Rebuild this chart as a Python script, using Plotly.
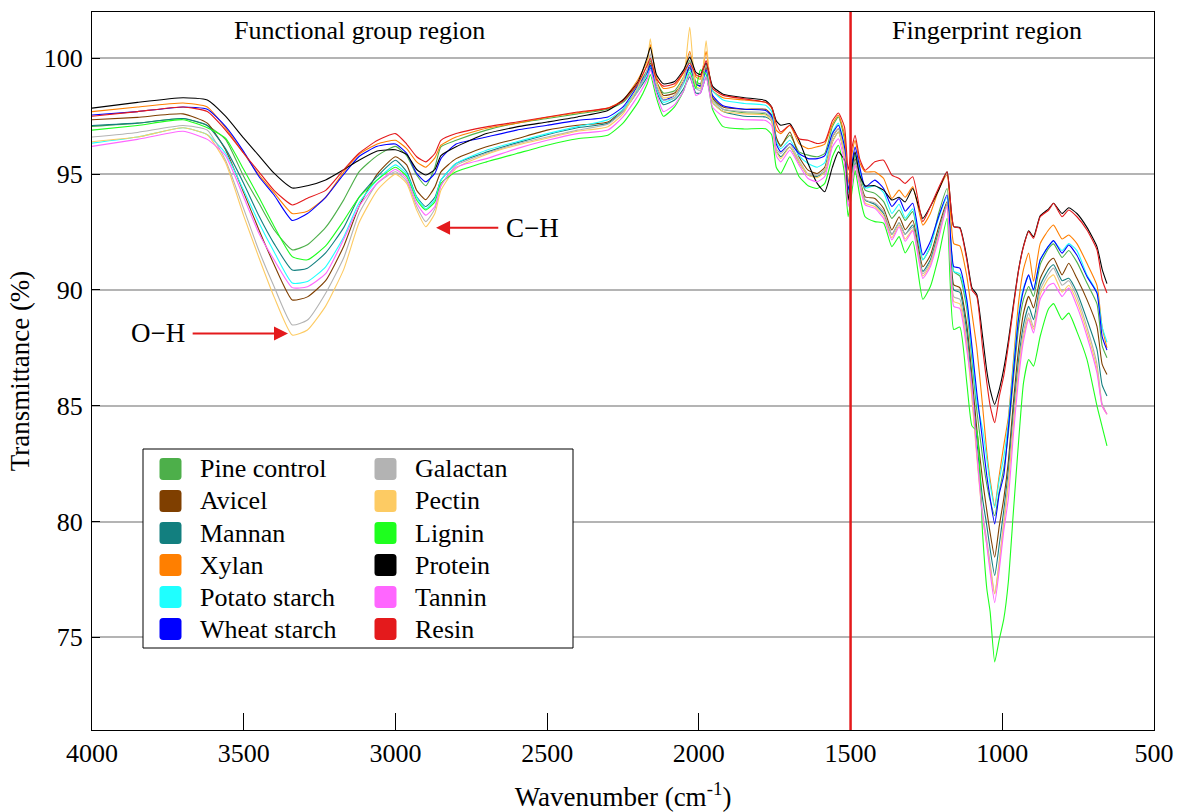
import plotly.graph_objects as go

wavenumber = [4000, 3850, 3700, 3620, 3560, 3500, 3450, 3400, 3340, 3290,
              3230, 3170, 3120, 3060, 3000, 2963, 2930, 2900, 2870, 2850,
              2800, 2700, 2600, 2500, 2400, 2300, 2250, 2200, 2170, 2160,
              2140, 2117, 2080, 2050, 2030, 2010, 1995, 1976, 1955, 1920,
              1850, 1780, 1760, 1745, 1730, 1700, 1670, 1640, 1610, 1585,
              1560, 1540, 1520, 1508, 1495, 1485, 1470, 1452, 1420, 1391,
              1364, 1340, 1320, 1295, 1262, 1237, 1210, 1182, 1160, 1140,
              1117, 1100, 1084, 1065, 1051, 1040, 1025, 1010, 995, 980,
              963, 946, 930, 913, 897, 875, 847, 831, 803, 781,
              754, 721, 688, 671, 655]

pine_control = [97.06, 97.2, 97.4, 97.1, 96.5, 94.9, 93.75, 92.6, 91.73, 91.95,
                92.7, 93.9, 95.1, 95.8, 96.2, 95.8, 94.96, 94.5, 95.3, 96.18,
                96.46, 96.9, 97.2, 97.4, 97.6, 97.8, 98.1, 98.9, 99.5, 99.9,
                99.0, 98.5, 98.6, 99.2, 99.9, 99.0, 98.9, 99.7, 98.3, 97.8,
                97.65, 97.6, 97.4, 96.5, 96.25, 96.68, 95.96, 95.82, 95.75, 95.9,
                97.04, 97.47, 96.5, 94.2, 95.2, 95.82, 95.0, 94.31, 94.17, 93.81,
                93.09, 93.45, 93.0, 93.38, 91.3, 91.85, 93.3, 94.38, 90.8, 90.6,
                89.2, 87.0, 84.8, 82.8, 81.6, 80.9, 80.25, 81.3, 82.3, 83.8,
                86.2, 88.4, 89.6, 90.15, 89.72, 91.1, 91.8, 91.99, 91.4, 91.7,
                91.2, 90.3, 89.4, 87.6, 87.07]

avicel = [97.35, 97.45, 97.6, 97.2, 96.05, 94.2, 92.6, 91.1, 89.57, 89.7,
          90.4, 91.9, 93.6, 95.0, 95.75, 95.4, 94.3, 93.9, 94.45, 95.1,
          95.67, 96.18, 96.53, 96.9, 97.11, 97.25, 97.8, 98.7, 99.4, 99.8,
          99.0, 98.4, 98.5, 99.0, 99.6, 98.9, 98.8, 99.6, 98.3, 97.9,
          97.8, 97.8, 97.55, 96.6, 96.2, 96.82, 95.75, 95.17, 95.03, 95.3,
          96.6, 96.96, 96.0, 93.9, 94.9, 95.67, 94.8, 94.02, 93.95, 93.52,
          92.59, 93.16, 92.6, 93.0, 91.0, 91.5, 92.7, 93.81, 90.22, 90.1,
          88.5, 86.3, 84.0, 81.8, 80.47, 79.5, 78.46, 79.8, 81.0, 82.6,
          85.2, 87.5, 89.0, 89.72, 89.22, 90.5, 91.2, 91.37, 90.65, 91.15,
          90.5, 89.58, 88.43, 86.8, 86.35]

mannan = [97.1, 97.2, 97.4, 97.1, 96.1, 94.6, 93.2, 92.0, 90.86, 90.94,
          91.6, 92.7, 94.0, 94.9, 95.6, 95.1, 94.02, 93.6, 94.0, 94.74,
          95.46, 95.95, 96.35, 96.7, 97.0, 97.2, 97.7, 98.6, 99.2, 99.6,
          98.6, 98.0, 98.2, 98.7, 99.2, 98.5, 98.5, 99.2, 98.1, 97.7,
          97.5, 97.47, 97.3, 96.0, 95.75, 96.17, 95.5, 94.96, 94.9, 95.1,
          96.4, 96.82, 95.8, 93.8, 94.8, 95.53, 94.7, 93.88, 93.7, 93.3,
          92.4, 92.9, 92.4, 92.8, 90.8, 91.3, 92.5, 93.7, 90.0, 89.9,
          88.2, 85.9, 83.5, 81.0, 79.82, 78.8, 77.67, 79.0, 80.5, 82.2,
          84.8, 87.0, 88.5, 89.29, 88.72, 90.2, 90.9, 91.09, 90.4, 90.5,
          89.9, 88.72, 87.43, 85.9, 85.42]

xylan = [97.7, 97.9, 98.07, 97.9, 97.0, 95.9, 94.97, 94.2, 93.3, 93.4,
         94.0, 95.1, 95.85, 96.3, 96.46, 96.1, 95.53, 95.3, 95.7, 96.25,
         96.6, 96.98, 97.2, 97.45, 97.65, 97.85, 98.2, 99.1, 99.9, 100.6,
         99.2, 98.7, 98.8, 99.4, 100.3, 99.2, 99.1, 100.3, 98.6, 98.3,
         98.2, 98.1, 97.85, 96.9, 96.75, 97.1, 96.32, 96.1, 96.18, 96.3,
         97.15, 97.54, 96.7, 94.6, 95.9, 96.46, 95.5, 95.1, 95.1, 94.81,
         93.95, 94.31, 94.0, 94.45, 92.8, 93.3, 94.3, 94.96, 92.0, 91.9,
         90.6, 89.0, 87.5, 85.0, 83.0, 81.8, 80.68, 82.0, 83.3, 84.5,
         87.0, 89.5, 90.9, 91.59, 90.37, 92.0, 92.6, 92.8, 92.2, 92.37,
         92.0, 91.15, 90.2, 88.4, 87.5]

potato_starch = [96.34, 96.6, 97.0, 96.7, 95.9, 94.3, 92.9, 91.65, 90.3, 90.36,
                 91.0, 92.3, 93.75, 94.75, 95.4, 95.0, 94.0, 93.5, 93.9, 94.74,
                 95.46, 96.03, 96.4, 96.75, 97.05, 97.35, 97.8, 98.7, 99.3, 99.7,
                 98.7, 98.1, 98.3, 98.9, 99.5, 98.7, 98.7, 99.4, 98.6, 98.2,
                 98.05, 97.97, 97.7, 96.4, 96.1, 96.46, 95.8, 95.46, 95.3, 95.5,
                 96.8, 97.2, 96.1, 94.2, 95.2, 95.89, 95.2, 94.4, 94.5, 94.2,
                 93.3, 93.7, 93.1, 93.5, 91.3, 91.9, 93.1, 94.0, 90.8, 90.7,
                 89.4, 87.3, 85.2, 84.0, 82.7, 81.6, 80.6, 81.8, 82.8, 84.3,
                 86.8, 89.0, 90.1, 90.6, 90.0, 91.3, 91.9, 92.1, 91.7, 92.0,
                 91.7, 90.65, 89.9, 88.4, 87.74]

wheat_starch = [97.55, 97.7, 97.9, 97.8, 97.06, 95.97, 94.9, 94.1, 93.0, 93.3,
                94.0, 95.0, 95.76, 96.2, 96.3, 95.9, 95.03, 94.67, 95.03, 95.67,
                96.3, 96.6, 96.9, 97.11, 97.32, 97.47, 97.9, 98.83, 99.4, 99.7,
                98.8, 98.2, 98.4, 99.0, 99.7, 98.9, 98.8, 99.5, 98.4, 97.95,
                97.8, 97.75, 97.5, 96.3, 95.96, 96.32, 95.89, 95.67, 95.67, 95.8,
                96.75, 97.11, 96.18, 94.31, 95.5, 96.18, 95.31, 94.45, 94.74, 94.38,
                93.6, 93.95, 93.4, 93.74, 91.51, 92.09, 93.16, 94.1, 91.01, 90.94,
                89.58, 87.57, 85.56, 83.5, 81.97, 81.0, 79.9, 81.2, 82.0, 84.0,
                86.5, 88.8, 90.0, 90.65, 90.0, 91.3, 91.9, 92.13, 91.59, 91.94,
                91.5, 90.58, 89.86, 88.0, 87.4]

galactan = [96.6, 96.8, 97.1, 96.9, 95.6, 93.5, 91.7, 90.15, 88.49, 88.7,
            89.86, 91.4, 93.3, 94.6, 95.1, 94.7, 93.6, 92.95, 93.5, 94.5,
            95.38, 95.9, 96.3, 96.6, 96.9, 97.15, 97.7, 98.6, 99.5, 100.2,
            98.8, 98.2, 98.3, 99.0, 100.2, 98.7, 98.6, 99.8, 98.2, 97.8,
            97.7, 97.65, 97.4, 96.1, 95.89, 96.3, 95.6, 95.0, 94.95, 95.2,
            96.6, 96.96, 95.9, 93.9, 94.9, 95.6, 94.75, 93.9, 93.75, 93.4,
            92.4, 92.9, 92.4, 92.7, 90.7, 91.2, 92.4, 93.7, 89.7, 89.6,
            87.8, 85.5, 83.0, 80.4, 79.2, 78.2, 76.88, 78.3, 80.0, 81.8,
            84.4, 86.7, 88.2, 89.0, 88.4, 90.0, 90.7, 90.94, 90.2, 90.4,
            89.7, 88.4, 86.8, 85.1, 84.63]

pectin = [96.4, 96.6, 97.0, 96.7, 95.5, 93.2, 91.4, 89.7, 88.05, 88.27,
          89.3, 90.9, 92.9, 94.3, 95.0, 94.6, 93.45, 92.73, 93.3, 94.3,
          95.25, 95.85, 96.25, 96.55, 96.85, 97.05, 97.6, 98.8, 99.8, 100.84,
          99.0, 98.3, 98.4, 99.2, 101.34, 98.8, 98.7, 100.76, 98.1, 97.7,
          97.6, 97.55, 97.3, 96.0, 95.67, 96.17, 95.5, 94.96, 94.85, 95.1,
          96.4, 96.82, 95.8, 93.8, 94.7, 95.39, 94.6, 93.75, 93.6, 93.2,
          92.25, 92.8, 92.2, 92.6, 90.6, 91.1, 92.3, 93.6, 89.5, 89.4,
          87.6, 85.3, 82.8, 80.2, 79.0, 78.0, 76.88, 78.2, 79.9, 81.6,
          84.2, 86.5, 88.0, 88.8, 88.3, 89.8, 90.5, 90.65, 89.9, 90.2,
          89.5, 88.2, 86.6, 85.0, 84.63]

lignin = [96.9, 97.1, 97.35, 97.0, 96.55, 95.2, 94.0, 92.75, 91.44, 91.3,
          91.9, 93.0, 94.0, 94.75, 95.3, 94.9, 93.88, 93.45, 93.8, 94.6,
          95.1, 95.53, 95.89, 96.25, 96.53, 96.68, 97.2, 98.11, 98.9, 99.3,
          98.3, 97.5, 97.9, 98.6, 99.4, 98.7, 99.5, 99.3, 97.8, 97.05,
          96.95, 96.96, 96.7, 95.3, 95.03, 95.75, 94.9, 94.5, 94.38, 94.6,
          95.75, 96.25, 95.03, 93.16, 94.3, 95.17, 94.1, 93.16, 92.95, 92.88,
          91.87, 92.3, 91.6, 92.1, 89.6, 90.15, 91.44, 93.09, 88.29, 88.4,
          86.0, 84.13, 83.9, 79.5, 77.1, 76.1, 73.94, 74.9, 75.8, 77.4,
          80.5, 83.5, 86.0, 87.0, 86.71, 88.0, 89.2, 89.41, 88.72, 89.0,
          88.2, 87.0, 84.99, 84.1, 83.27]

protein = [97.85, 98.1, 98.3, 98.2, 97.5, 96.55, 95.8, 95.04, 94.4, 94.5,
           94.75, 95.2, 95.6, 96.0, 96.05, 95.85, 95.2, 94.96, 95.2, 95.8,
           96.18, 96.75, 97.04, 97.25, 97.47, 97.75, 98.2, 99.0, 100.05, 100.48,
           99.3, 98.9, 99.0, 99.5, 100.05, 99.4, 99.3, 99.8, 98.8, 98.45,
           98.3, 98.18, 97.9, 97.3, 97.11, 97.18, 96.46, 95.46, 94.6, 94.24,
           95.3, 95.96, 95.6, 93.88, 95.3, 95.96, 94.96, 94.5, 94.5, 94.31,
           93.88, 94.0, 93.8, 94.38, 93.09, 93.6, 94.3, 95.1, 92.73, 92.7,
           91.4, 90.1, 89.8, 88.0, 86.5, 85.7, 85.06, 85.7, 86.6, 87.8,
           89.4, 90.9, 91.9, 92.55, 92.3, 93.2, 93.5, 93.74, 93.3, 93.55,
           93.3, 92.7, 91.87, 90.9, 90.27]

tannin = [96.2, 96.5, 96.85, 96.5, 95.8, 94.0, 92.45, 91.3, 90.1, 90.14,
          90.7, 92.2, 93.6, 94.6, 95.2, 94.8, 93.74, 93.23, 93.6, 94.5,
          95.3, 95.67, 96.1, 96.46, 96.75, 96.9, 97.47, 98.4, 99.1, 99.5,
          98.5, 97.7, 98.0, 98.6, 99.3, 98.4, 98.5, 99.2, 97.9, 97.5,
          97.35, 97.32, 97.1, 95.8, 95.53, 96.03, 95.39, 94.81, 94.67, 94.9,
          96.17, 96.53, 95.5, 93.59, 94.6, 95.39, 94.5, 93.67, 93.52, 93.09,
          92.16, 92.73, 92.1, 92.55, 90.5, 91.0, 92.2, 93.6, 89.29, 89.2,
          87.4, 85.8, 83.0, 80.2, 78.97, 77.8, 76.5, 77.9, 79.6, 81.0,
          83.8, 86.2, 87.8, 88.72, 88.14, 89.6, 90.2, 90.29, 89.72, 90.08,
          89.3, 88.0, 86.42, 85.0, 84.63]

resin = [97.5, 97.7, 97.9, 97.7, 96.9, 95.9, 95.1, 94.3, 93.67, 93.96,
         94.3, 95.2, 95.9, 96.45, 96.75, 96.3, 95.75, 95.53, 95.89, 96.46,
         96.75, 97.04, 97.25, 97.47, 97.68, 97.85, 98.15, 98.95, 99.7, 100.0,
         99.1, 98.8, 98.9, 99.4, 99.8, 99.3, 99.2, 99.9, 98.7, 98.4,
         98.25, 98.1, 97.9, 97.18, 96.82, 97.11, 96.53, 96.46, 96.32, 96.4,
         97.3, 97.64, 97.04, 95.17, 96.18, 96.68, 95.67, 95.17, 95.53, 95.6,
         94.96, 94.81, 94.6, 94.89, 92.95, 93.6, 94.4, 95.1, 92.73, 92.66,
         91.3, 90.0, 89.72, 87.5, 86.0, 85.0, 84.27, 85.4, 86.3, 87.6,
         89.29, 90.87, 91.87, 92.52, 92.23, 93.16, 93.45, 93.74, 93.16, 93.45,
         93.16, 92.59, 91.73, 90.44, 89.87]

series_names = ["Pine control", "Avicel", "Mannan", "Xylan", "Potato starch", "Wheat starch",
                "Galactan", "Pectin", "Lignin", "Protein", "Tannin", "Resin"]
series_values = [pine_control, avicel, mannan, xylan, potato_starch, wheat_starch,
                 galactan, pectin, lignin, protein, tannin, resin]
series_colors = ["#4daf4a", "#7f3f00", "#127f7f", "#ff7f00", "#1fffff", "#0000ff",
                 "#b3b3b3", "#fdcb63", "#1eff1e", "#000000", "#ff66ff", "#e41a1c"]

x_ticks = [4000, 3500, 3000, 2500, 2000, 1500, 1000, 500]
y_ticks = [75, 80, 85, 90, 95, 100]

FONT = "Liberation Serif"

# plot-area geometry in pixels (for placing the hand-built legend)
L, R, T, B = 92, 1154, 12, 730
W, H = 1180, 812


def px_x(p):
    return (p - L) / (R - L)


def px_y(p):
    return (B - p) / (B - T)


fig = go.Figure()
for name, vals, color in zip(series_names, series_values, series_colors):
    assert len(vals) == len(wavenumber), name
    fig.add_trace(go.Scatter(x=wavenumber, y=vals, mode="lines", name=name,
                             line=dict(color=color, width=1.1, shape="spline", smoothing=0.5),
                             showlegend=False, hoverinfo="skip"))

shapes = [
    dict(type="line", xref="x", yref="paper", x0=1500, x1=1500, y0=0, y1=1,
         line=dict(color="#e41a1c", width=2.5), layer="above"),
    dict(type="rect", xref="paper", yref="paper", x0=px_x(143), x1=px_x(573),
         y0=px_y(648), y1=px_y(449), line=dict(color="black", width=1),
         fillcolor="white", layer="above"),
]

annotations = [
    dict(x=3117, y=101.2, xref="x", yref="y", text="Functional group region",
         showarrow=False, font=dict(family=FONT, size=26)),
    dict(x=1049, y=101.2, xref="x", yref="y", text="Fingerprint region",
         showarrow=False, font=dict(family=FONT, size=26)),
    dict(x=3354, y=88.12, xref="x", yref="y", ax=3782, ay=88.12, axref="x", ayref="y",
         text="O\u2212H", showarrow=True, arrowhead=2, arrowsize=1.4, arrowwidth=2,
         arrowcolor="#e41a1c", startstandoff=6, font=dict(family=FONT, size=27)),
    dict(x=2866, y=92.68, xref="x", yref="y", ax=2549, ay=92.68, axref="x", ayref="y",
         text="C\u2212H", showarrow=True, arrowhead=2, arrowsize=1.4, arrowwidth=2,
         arrowcolor="#e41a1c", startstandoff=6, font=dict(family=FONT, size=27)),
]

# hand-built two-column legend (rounded colour squares + labels)
col_swatch_x = [170.5, 385.5]
col_text_x = [198, 413]
row_y0, row_dy = 469, 32
half, rad = 11, 3.5
for i, (name, color) in enumerate(zip(series_names, series_colors)):
    col, row = divmod(i, 6)
    cx, cy = col_swatch_x[col], row_y0 + row * row_dy
    x0, x1, y0, y1 = cx - half, cx + half, cy - half, cy + half
    pts = [
        ("M", x0 + rad, y0), ("L", x1 - rad, y0), ("Q", x1, y0, x1, y0 + rad),
        ("L", x1, y1 - rad), ("Q", x1, y1, x1 - rad, y1), ("L", x0 + rad, y1),
        ("Q", x0, y1, x0, y1 - rad), ("L", x0, y0 + rad), ("Q", x0, y0, x0 + rad, y0),
    ]
    path = ""
    for p in pts:
        if p[0] == "Q":
            path += "Q{:.5f},{:.5f} {:.5f},{:.5f} ".format(px_x(p[1]), px_y(p[2]), px_x(p[3]), px_y(p[4]))
        else:
            path += "{}{:.5f},{:.5f} ".format(p[0], px_x(p[1]), px_y(p[2]))
    path += "Z"
    shapes.append(dict(type="path", xref="paper", yref="paper", path=path,
                       fillcolor=color, line=dict(width=0), layer="above"))
    annotations.append(dict(x=px_x(col_text_x[col]), y=px_y(cy), xref="paper", yref="paper",
                            text=name, showarrow=False, xanchor="left", yanchor="middle",
                            font=dict(family=FONT, size=26, color="black")))

fig.update_layout(
    width=W, height=H,
    margin=dict(l=L, r=W - R, t=T, b=H - B),
    paper_bgcolor="white", plot_bgcolor="white", showlegend=False,
    font=dict(family=FONT, size=26, color="black"),
    xaxis=dict(range=[4000, 500], tickvals=x_ticks, ticks="inside", ticklen=17,
               tickcolor="black", showline=True, linecolor="black", linewidth=1,
               mirror=True, showgrid=False, zeroline=False, automargin=False,
               tickfont=dict(family=FONT, size=26),
               title=dict(text="Wavenumber (cm<sup>-1</sup>)", standoff=20,
                          font=dict(family=FONT, size=27))),
    yaxis=dict(range=[71, 102], tickvals=y_ticks, ticks="inside", ticklen=8,
               tickcolor="black", showline=True, linecolor="black", linewidth=1,
               mirror=True, showgrid=True, gridcolor="#b4b4b4", gridwidth=2,
               zeroline=False, automargin=False, ticklabelstandoff=3,
               tickfont=dict(family=FONT, size=26),
               title=dict(text="Transmittance (%)", standoff=6,
                          font=dict(family=FONT, size=27))),
    shapes=shapes,
    annotations=annotations,
)

fig.write_html("out.html")
